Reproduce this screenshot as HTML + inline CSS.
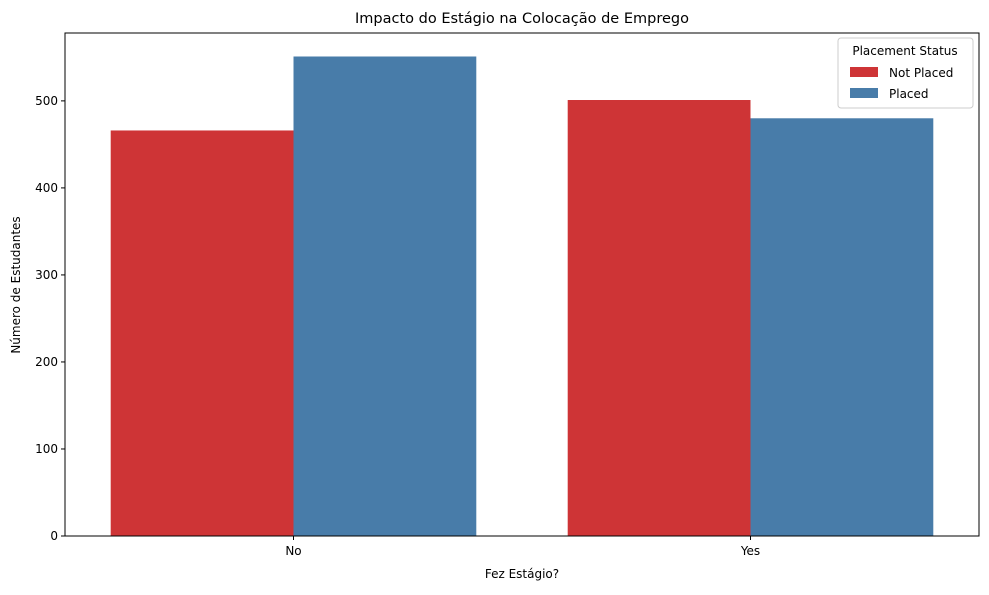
<!DOCTYPE html>
<html><head><meta charset="utf-8"><style>
body{margin:0;background:#fff;font-family:"Liberation Sans","DejaVu Sans",sans-serif}
</style></head><body>
<svg id="c" width="989" height="590" xmlns="http://www.w3.org/2000/svg" font-family="DejaVu Sans, Liberation Sans, sans-serif">
<text x="522" y="23" text-anchor="middle" font-size="14.5" fill="#000">Impacto do Estágio na Colocação de Emprego</text>
<g id="bars"></g>
<g id="axes"></g>
<text x="522" y="578" text-anchor="middle" font-size="12">Fez Estágio?</text>
<text transform="translate(20,285) rotate(-90)" text-anchor="middle" font-size="12">Número de Estudantes</text>
<g>
<rect x="838" y="38" width="135" height="70" rx="3" fill="#fff" fill-opacity="0.8" stroke="#ccc"/>
<text x="905" y="55" text-anchor="middle" font-size="12">Placement Status</text>
<rect x="850" y="67" width="28" height="10" fill="#ce3436"/>
<text x="889" y="77" font-size="12">Not Placed</text>
<rect x="850" y="88" width="28" height="10" fill="#487ca9"/>
<text x="889" y="98" font-size="12">Placed</text>
</g>
</svg>
<script>
const categories=["No","Yes"];
const notPlaced=[466,501];
const placed=[551,480];
const yTicks=[0,100,200,300,400,500];
const L=65,R=979,T=33,B=536,yMax=578;
const y=v=>B-(B-T)*v/yMax;
const step=(R-L)/categories.length;
const xc=i=>L+step*(i+0.5);
const bw=step*0.4;
const NS="http://www.w3.org/2000/svg";
function mk(t,a,p){const e=document.createElementNS(NS,t);for(const k in a)e.setAttribute(k,a[k]);p.appendChild(e);return e;}
const bars=document.getElementById('bars'),axes=document.getElementById('axes');
categories.forEach((c,i)=>{
 let r=mk('rect',{x:xc(i)-bw,y:y(notPlaced[i]),width:bw,height:B-y(notPlaced[i]),fill:'#ce3436'},bars);
 
 
 let r2=mk('rect',{x:xc(i),y:y(placed[i]),width:bw,height:B-y(placed[i]),fill:'#487ca9'},bars);
 
 
 mk('line',{x1:xc(i),x2:xc(i),y1:B,y2:B+4,stroke:'#000'},axes);
 let t=mk('text',{x:xc(i),y:B+19,'text-anchor':'middle','font-size':12},axes);t.textContent=c;
 
 
});
yTicks.forEach(v=>{
 mk('line',{x1:L-4,x2:L,y1:y(v),y2:y(v),stroke:'#000'},axes);
 let t=mk('text',{x:L-7,y:y(v)+4,'text-anchor':'end','font-size':12},axes);t.textContent=v;
 
 
});
let f=mk('rect',{x:L,y:T,width:R-L,height:B-T,fill:'none',stroke:'#000','stroke-width':1},axes);


</script>
</body></html>
